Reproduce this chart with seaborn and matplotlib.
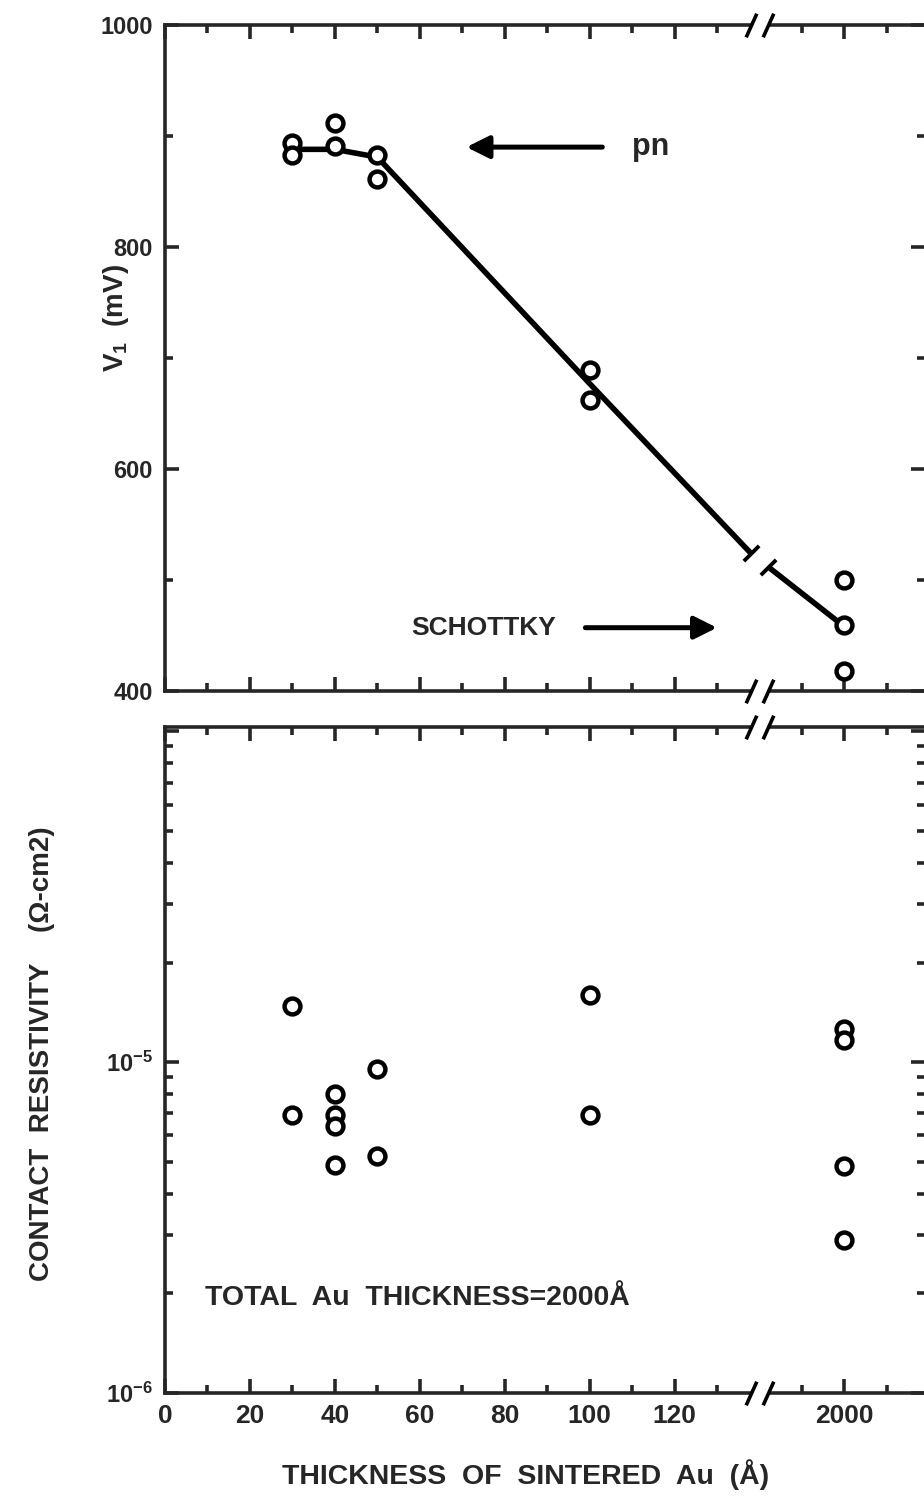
import numpy as np
import pandas as pd
import matplotlib
matplotlib.use("Agg")
import matplotlib.pyplot as plt
from matplotlib.ticker import FixedLocator, FixedFormatter, NullFormatter, LogLocator
import seaborn as sns

# data
v1_x = [30, 30, 40, 40, 50, 50, 100, 100, 2000, 2000, 2000]
v1_y = [894, 883, 912, 891, 883, 861, 689, 662, 500, 459, 418]

# hand-drawn guide line through the V1 data
guide_x = [30, 40, 50, 100, 138, 2000]
guide_y = [888, 888, 881, 677, 524, 458]

rho_x = [30, 30, 40, 40, 40, 40, 50, 50, 100, 100, 2000, 2000, 2000, 2000]
rho_y = [1.48e-5, 6.9e-6, 8.0e-6, 6.9e-6, 6.4e-6, 4.9e-6, 9.5e-6, 5.2e-6,
         1.59e-5, 6.9e-6, 1.26e-5, 1.17e-5, 4.85e-6, 2.9e-6]

x_major = [0, 20, 40, 60, 80, 100, 120, 2000]
x_major_labels = ['0', '20', '40', '60', '80', '100', '120', '2000']
x_minor = [10, 30, 50, 70, 90, 110, 130, 1990, 2010]

v1_major = [400, 600, 800, 1000]
v1_minor = [500, 700, 900]

# broken x axis: 0..138 linear, jump, 1982.. linear
brk_lo, brk_hi = 138, 1982
_xp = [-100, brk_lo, brk_hi, 3000]
_fp = [-100, brk_lo, brk_lo + 4, brk_lo + 4 + (3000 - brk_hi)]


def fwd(x):
    return np.interp(x, _xp, _fp)


def inv(x):
    return np.interp(x, _fp, _xp)


sns.set_style("ticks")
plt.rcParams['font.family'] = ['Liberation Sans', 'DejaVu Sans']
plt.rcParams['font.weight'] = 'bold'
plt.rcParams['mathtext.default'] = 'regular'
plt.rcParams['axes.linewidth'] = 2.6

fig = plt.figure(figsize=(9.24, 15.08), dpi=100)
ax1 = fig.add_axes([0.1786, 0.5418, 0.8225, 0.4416])
ax2 = fig.add_axes([0.1786, 0.0763, 0.8225, 0.4416])

v1 = pd.DataFrame({'x': v1_x, 'y': v1_y})
guide = pd.DataFrame({'x': guide_x, 'y': guide_y})
rho = pd.DataFrame({'x': rho_x, 'y': rho_y})

for ax in (ax1, ax2):
    ax.set_xscale('function', functions=(fwd, inv))
    ax.set_xlim(0, 2019)

sns.lineplot(data=guide, x='x', y='y', ax=ax1, color='black', lw=4,
             sort=False, estimator=None, zorder=2)
sns.scatterplot(data=v1, x='x', y='y', ax=ax1, marker='o', s=130,
                facecolor='white', edgecolor='black', linewidth=3.2, zorder=4)
sns.scatterplot(data=rho, x='x', y='y', ax=ax2, marker='o', s=130,
                facecolor='white', edgecolor='black', linewidth=3.2, zorder=4)

# gap in the guide line at the axis break
gx = np.array([138.7, 1981.3])
gy = np.interp(fwd(gx), fwd(guide_x), guide_y)
ax1.plot(gx, gy, color='white', lw=8, solid_capstyle='butt', zorder=3)
ax1.plot(gx, gy, ls='none', marker=[(-1, -1), (1, 1)], ms=11, mew=2.8,
         color='black', zorder=3)

ax1.set_ylim(400, 1000)
ax1.yaxis.set_major_locator(FixedLocator(v1_major))
ax1.yaxis.set_minor_locator(FixedLocator(v1_minor))

ax2.set_yscale('log')
ax2.set_ylim(1e-6, 1.03e-4)
ax2.yaxis.set_major_locator(FixedLocator([1e-6, 1e-5, 1e-4]))
ax2.yaxis.set_major_formatter(FixedFormatter(['10$^{-6}$', '10$^{-5}$', '']))
ax2.yaxis.set_minor_locator(LogLocator(base=10, subs=np.arange(2, 10)))
ax2.yaxis.set_minor_formatter(NullFormatter())

for ax in (ax1, ax2):
    ax.xaxis.set_major_locator(FixedLocator(x_major))
    ax.xaxis.set_minor_locator(FixedLocator(x_minor))
    ax.xaxis.set_major_formatter(FixedFormatter(x_major_labels))
    ax.xaxis.set_minor_formatter(NullFormatter())
    ax.tick_params(which='both', direction='in', top=True, right=True, width=2.6)
    ax.tick_params(which='major', length=10)
    ax.tick_params(which='minor', length=6)
    ax.tick_params(axis='y', which='major', labelsize=17, pad=9)
    ax.tick_params(axis='x', which='major', labelsize=19, pad=8)
    ax.set_xlabel('')
    ax.set_ylabel('')
    # break marks on top and bottom spines
    for yy in (0, 1):
        ax.plot([brk_lo + 0.4, brk_hi - 0.4], [yy, yy], color='white', lw=7,
                solid_capstyle='butt', transform=ax.get_xaxis_transform(),
                clip_on=False, zorder=10)
        ax.plot([brk_lo, brk_hi], [yy, yy], ls='none',
                marker=[(-0.45, -1), (0.45, 1)], ms=17, mew=2.6, color='black',
                transform=ax.get_xaxis_transform(), clip_on=False, zorder=11)

ax1.tick_params(axis='x', labelbottom=False)

ax1.set_ylabel('V$_1$  (mV)', fontsize=20, fontweight='bold')
ax1.yaxis.set_label_coords(-0.045, 0.56)
ax2.set_ylabel('CONTACT  RESISTIVITY    (\u03a9-cm2)', fontsize=20, fontweight='bold')
ax2.yaxis.set_label_coords(-0.145, 0.51)
ax2.set_xlabel('THICKNESS  OF  SINTERED  Au  (\u00c5)', fontsize=20.5, fontweight='bold')
ax2.xaxis.set_label_coords(0.475, -0.10)

# annotations
ax1.annotate('', xy=(71, 890), xytext=(103, 890),
             arrowprops=dict(arrowstyle='-|>', lw=3.6, color='black',
                             mutation_scale=34, shrinkA=0, shrinkB=0))
ax1.text(110, 890, 'pn', fontsize=22, fontweight='bold', va='center', ha='left')
ax1.text(75, 457, 'SCHOTTKY', fontsize=19, fontweight='bold', va='center', ha='center')
ax1.annotate('', xy=(130, 457), xytext=(99, 457),
             arrowprops=dict(arrowstyle='-|>', lw=3.6, color='black',
                             mutation_scale=34, shrinkA=0, shrinkB=0))
ax2.text(9.5, 1.94e-6, 'TOTAL  Au  THICKNESS=2000\u00c5', fontsize=20.5,
         fontweight='bold', va='center', ha='left')

fig.savefig('out.png', dpi=100)
